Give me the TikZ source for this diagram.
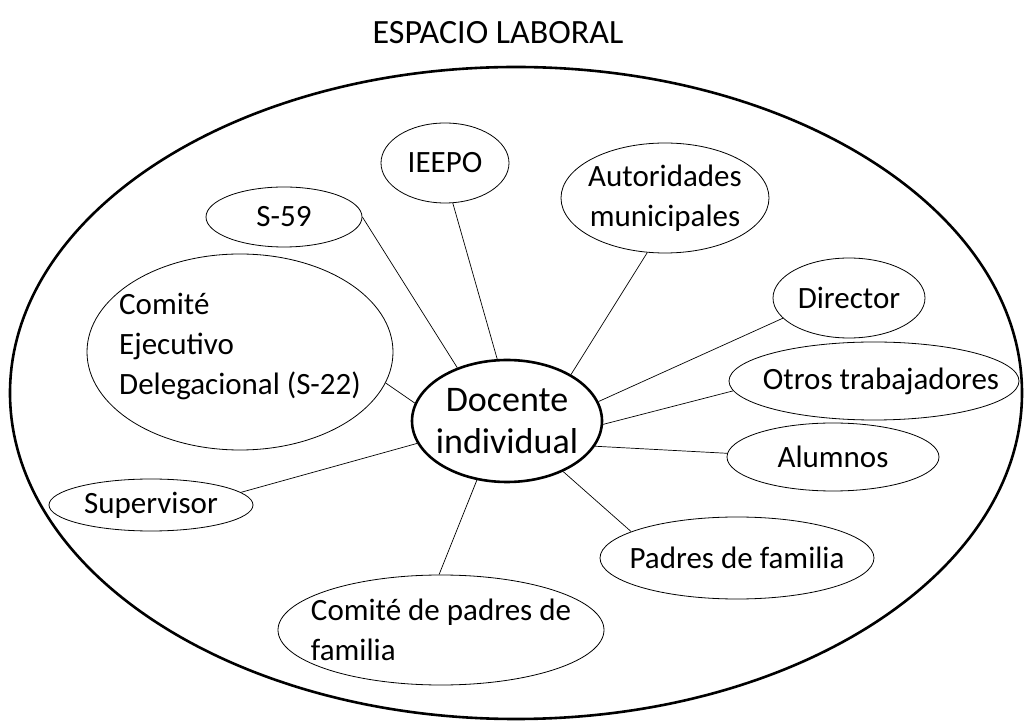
\documentclass[tikz,border=0pt]{standalone}
\usepackage{fontspec}
\setmainfont{Carlito}
\usetikzlibrary{shapes,positioning}
\colorlet{background}{white}
\colorlet{penColor}{black}
\tikzset{
  actor/.style={ellipse,draw=penColor,line width=0.8pt,inner sep=0pt},
  tag/.style={label={[align=center,font=\fontsize{31}{40}\selectfont]center:{#1}}},
  ltag/.style={label={[align=left,font=\fontsize{31}{40}\selectfont]center:{#1}}},
  link/.style={draw=penColor,line width=0.7pt}
}

\begin{document}
\begin{tikzpicture}[x=1pt,y=1pt]
      \useasboundingbox (0,0) rectangle (1025,723);
      \node (title) at (498,690) {\fontsize{34}{40}\selectfont ESPACIO LABORAL};
      \draw[penColor,line width=2.6pt] (516,330) ellipse (506 and 326);% outer space
      \node[ellipse,draw=penColor,line width=2.6pt,inner sep=0pt,minimum width=190,minimum height=122,
        label={[align=center,font=\fontsize{36}{42}\selectfont]center:{Docente\\individual}}] (doc) at (507,302) {};
      \node[actor,minimum width=128,minimum height=80,tag=IEEPO] (ieepo) at (445,560) {};
      \node[actor,minimum width=156,minimum height=60,tag=S-59] (s59) at (284,506) {};
      \node[actor,minimum width=208,minimum height=110,tag={Autoridades\\municipales}] (auto) at (665,525) {};
      \node[actor,minimum width=306,minimum height=196,
        label={[align=left,font=\fontsize{31}{40}\selectfont,yshift=5]center:{Comité\\Ejecutivo\\Delegacional (S-22)}}] (cedel) at (240,371) {};
      \node[actor,minimum width=152,minimum height=80,tag=Director] (dir) at (849,425) {};
      \node[actor,minimum width=290,minimum height=78,
        label={[font=\fontsize{31}{40}\selectfont,xshift=7]center:Otros trabajadores}] (otros) at (874,342) {};
      \node[actor,minimum width=212,minimum height=68,tag=Alumnos] (alum) at (833,266) {};
      \node[actor,minimum width=204,minimum height=52,tag=Supervisor] (sup) at (151,218) {};
      \node[actor,minimum width=274,minimum height=82,tag={Padres de familia}] (padres) at (737,165) {};
      \node[actor,minimum width=326,minimum height=110,ltag={Comité de padres de\\familia}] (cpadres) at (441,93) {};
      % spokes
      \draw[link] (doc.133) -- (s59.0);
      \draw[link] (doc.99) -- (ieepo.-79);
      \draw[link] (doc.36) -- (auto.-108);
      \draw[link] (doc.12) -- (dir.-163);
      \draw[link] (doc.-2) -- (otros.184);
      \draw[link] (doc.-16) -- (alum.178);
      \draw[link] (doc.-42) -- (padres.166);
      \draw[link] (doc.-117) -- (cpadres.92);
      \draw[link] (doc.-166) -- (sup.8);
      \draw[link] (doc.169) -- (cedel.-12);
    \end{tikzpicture}
\end{document}
